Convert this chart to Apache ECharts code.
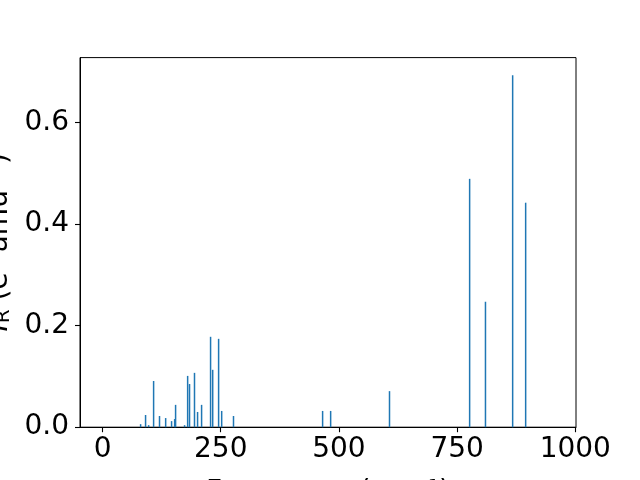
<!DOCTYPE html>
<html>
<head>
<meta charset="utf-8">
<script src="https://cdn.jsdelivr.net/npm/echarts@6/dist/echarts.min.js"></script>
<style>html,body{margin:0;padding:0;background:#fff;}#c{width:640px;height:480px;}</style>
</head>
<body>
<div id="c"></div>
<script>
const frequencies = [80.5, 91, 97.5, 108, 120.5, 133.5, 146, 152.5, 154.5, 173.5, 180, 184, 194.5, 201, 209.5, 228.5, 233, 245.5, 252, 277, 465.5, 482.5, 607, 776.5, 810, 867.5, 895];
const intensities = [0.006, 0.024, 0.004, 0.091, 0.022, 0.018, 0.012, 0.016, 0.044, 0.004, 0.101, 0.085, 0.107, 0.030, 0.044, 0.178, 0.113, 0.174, 0.032, 0.022, 0.032, 0.032, 0.071, 0.489, 0.247, 0.693, 0.442];
const xTicks = [0, 250, 500, 750, 1000];
const yTicks = [0, 0.2, 0.4, 0.6];

const data = frequencies.map((f, i) => [f, intensities[i]]);
const chart = echarts.init(document.getElementById('c'), null, {renderer: 'canvas'});
const font = 'DejaVu Sans';
chart.setOption({
  animation: false,
  backgroundColor: '#fff',
  grid: {left: 80, right: 64, top: 57.6, bottom: 52.8, containLabel: false, outerBoundsMode: 'none',
         show: true, borderColor: '#000', borderWidth: 1, backgroundColor: 'transparent'},
  xAxis: {
    type: 'value', min: -47.7, max: 1001.5,
    name: 'Frequency (cm⁻¹)', nameLocation: 'middle', nameGap: 52,
    nameTextStyle: {fontFamily: font, fontSize: 28, color: '#000'},
    axisLine: {show: true, onZero: false, lineStyle: {color: '#000', width: 1}},
    axisTick: {show: true, inside: false, length: 5, lineStyle: {color: '#000', width: 1.1}, customValues: xTicks},
    axisLabel: {fontFamily: font, fontSize: 28, color: '#000', margin: 9, customValues: xTicks, formatter: v => String(v)},
    splitLine: {show: false}
  },
  yAxis: {
    type: 'value', min: 0, max: 0.7277,
    name: '{it|I}{sub|R} (e² amu⁻¹)', nameLocation: 'middle', nameGap: 63, nameRotate: 90,
    nameTextStyle: {fontFamily: font, fontSize: 28, color: '#000',
      rich: {it: {fontFamily: font, fontSize: 28, fontStyle: 'italic', color: '#000'},
             sub: {fontFamily: font, fontSize: 20, color: '#000', verticalAlign: 'bottom'}}},
    axisLine: {show: true, onZero: false, lineStyle: {color: '#000', width: 1}},
    axisTick: {show: true, inside: false, length: 5, lineStyle: {color: '#000', width: 1.1}, customValues: yTicks},
    axisLabel: {fontFamily: font, fontSize: 28, color: '#000', margin: 11, customValues: yTicks, formatter: v => v.toFixed(1)},
    splitLine: {show: false}
  },
  series: [{
    type: 'custom',
    data: data,
    renderItem: function (params, api) {
      const p0 = api.coord([api.value(0), 0]);
      const p1 = api.coord([api.value(0), api.value(1)]);
      return {type: 'line', shape: {x1: p0[0], y1: p0[1], x2: p1[0], y2: p1[1]},
              style: {stroke: '#1f77b4', lineWidth: 1.5}};
    },
    encode: {x: 0, y: 1}
  }]
});
</script>
</body>
</html>
